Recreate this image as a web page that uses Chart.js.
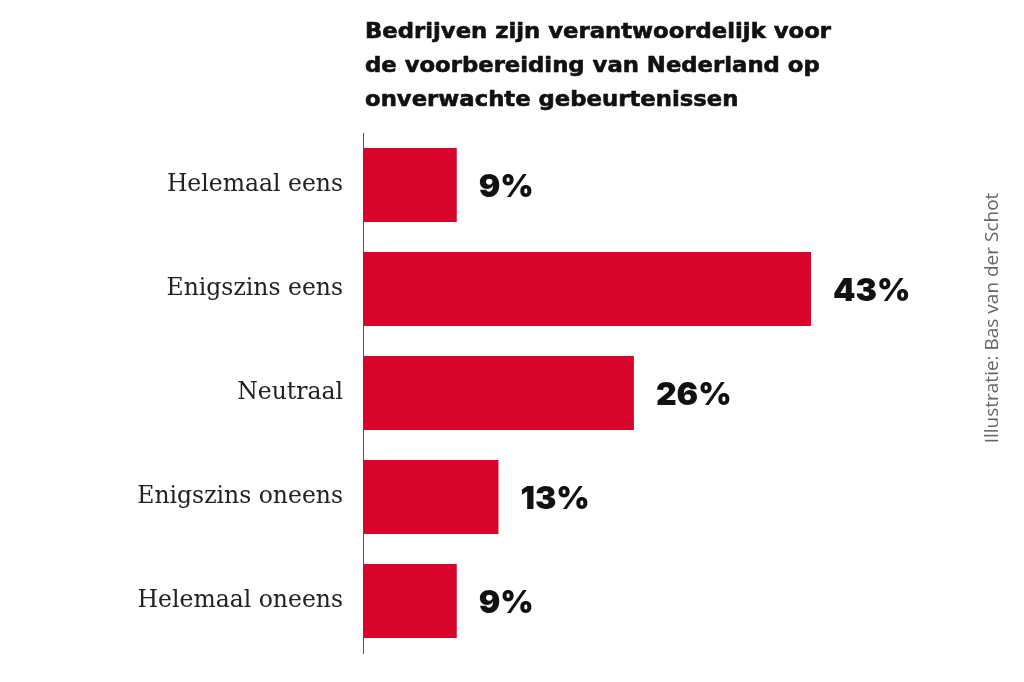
<!DOCTYPE html>
<html><head><meta charset="utf-8">
<script src="https://cdn.jsdelivr.net/npm/chart.js@4/dist/chart.umd.min.js"></script>
<style>html,body{margin:0;padding:0;background:#fff}#wrap{width:1024px;height:682px;position:relative}</style>
</head><body><div id="wrap"><canvas id="c" width="1024" height="682"></canvas></div>
<script>
const titleLines = ["Bedrijven zijn verantwoordelijk voor","de voorbereiding van Nederland op","onverwachte gebeurtenissen"];
const categories = ["Helemaal eens","Enigszins eens","Neutraal","Enigszins oneens","Helemaal oneens"];
const values = [9,43,26,13,9];
const valueLabels = ["9%","43%","26%","13%","9%"];
const credit = "Illustratie: Bas van der Schot";

const extras = {
  id:'extras',
  afterDraw(chart){
    const ctx = chart.ctx;
    ctx.save();
    // title
    ctx.fillStyle = '#111';
    ctx.strokeStyle = '#111';
    ctx.lineWidth = 0.6;
    ctx.lineJoin = 'round';
    ctx.textBaseline = 'alphabetic';
    ctx.textAlign = 'left';
    ctx.font = 'bold 21px "DejaVu Sans"';
    const w = ctx.measureText(titleLines[0]).width;
    const target = 466;
    ctx.save();
    ctx.translate(365, 0);
    ctx.scale(target / w, 1);
    titleLines.forEach((t,i)=>{ctx.fillText(t,0,38+i*34); ctx.strokeText(t,0,38+i*34);});
    ctx.restore();
    // value labels
    const meta = chart.getDatasetMeta(0);
    ctx.font = '900 32px Inter';
    ctx.textBaseline = 'middle';
    meta.data.forEach((bar,i)=>{
      ctx.fillText(valueLabels[i], bar.x + 22, bar.y + 2);
    });
    // credit
    ctx.translate(993, 318);
    ctx.rotate(-Math.PI/2);
    ctx.fillStyle = '#666';
    ctx.font = '19px "Open Sans"';
    ctx.textAlign = 'center';
    ctx.textBaseline = 'middle';
    ctx.fillText(credit, 0, 0);
    ctx.restore();
  }
};

new Chart(document.getElementById('c'), {
  type:'bar',
  data:{labels:categories, datasets:[{data:values, backgroundColor:'#d7042b', borderWidth:0, categoryPercentage:1, barPercentage:0.712}]},
  options:{
    indexAxis:'y', responsive:false, animation:false,
    layout:{padding:{top:133, bottom:29, right:140, left:0}},
    plugins:{legend:{display:false}, tooltip:{enabled:false}},
    scales:{
      x:{min:0, max:50, display:false, grid:{display:false}},
      y:{
        grid:{display:false, drawTicks:false},
        border:{display:true, color:'#555', width:1},
        ticks:{color:'#222', font:{family:'DejaVu Serif', size:23.5}, padding:20},
        afterFit(s){ s.width = 363; s.paddingTop = 0; s.paddingBottom = 0; }
      }
    }
  },
  plugins:[extras]
});
</script></body></html>
